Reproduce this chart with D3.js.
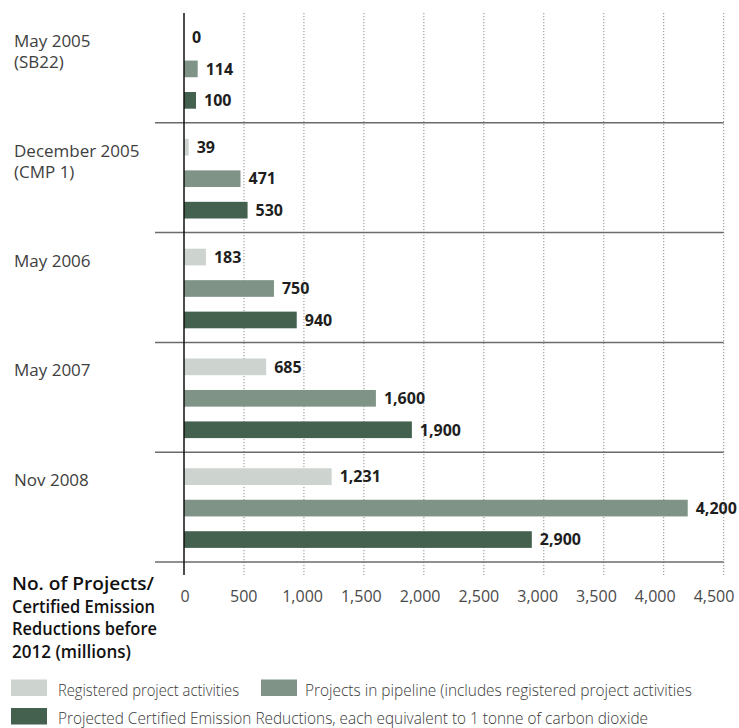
<!DOCTYPE html>
<html>
<head>
<meta charset="utf-8">
<script src="https://cdn.jsdelivr.net/npm/d3@7"></script>
<style>
  html, body { margin: 0; padding: 0; background: #fff; }
  svg { display: block; font-family: "Open Sans", "Noto Sans", sans-serif; }
</style>
</head>
<body>
<svg id="chart" width="739" height="728"></svg>
<script>
// ---- data ----
const categories = ["May 2005", "December 2005", "May 2006", "May 2007", "Nov 2008"];
const categoryLines = [["May 2005", "(SB22)"], ["December 2005", "(CMP 1)"], ["May 2006"], ["May 2007"], ["Nov 2008"]];
const seriesNames = [
  "Registered project activities",
  "Projects in pipeline (includes registered project activities",
  "Projected Certified Emission Reductions, each equivalent to 1 tonne of carbon dioxide"
];
const registered = [0, 39, 183, 685, 1231];
const pipeline = [114, 471, 750, 1600, 4200];
const projectedCERs = [100, 530, 940, 1900, 2900];
const tickValues = [0, 500, 1000, 1500, 2000, 2500, 3000, 3500, 4000, 4500];
const tickLabels = ["0", "500", "1,000", "1,500", "2,000", "2,500", "3,000", "3,500", "4,000", "4,500"];
const axisTitle = ["No. of Projects/", "Certified Emission", "Reductions before", "2012 (millions)"];
const colors = ["#cdd3cf", "#7f9486", "#43614e"];

const seriesValues = [registered, pipeline, projectedCERs];

const svg = d3.select("#chart");
svg.append("rect").attr("width", 739).attr("height", 728).attr("fill", "#fff");

const x = d3.scaleLinear().domain([0, 4500]).range([184, 723.7]);
const xLabel = d3.scaleLinear().domain([0, 4500]).range([185, 714]);
const y0 = d3.scaleBand().domain(categories).range([13, 562]).padding(0);
const y1 = d3.scaleBand().domain(d3.range(3)).range([1, y0.bandwidth() + 1])
  .paddingInner(0.47).paddingOuter(0.48);

const axisBottom = 575;

// gridlines (dotted)
svg.append("g").selectAll("line")
  .data(tickValues.filter(v => v > 0))
  .join("line")
  .attr("x1", d => x(d)).attr("x2", d => x(d))
  .attr("y1", 13).attr("y2", axisBottom)
  .attr("stroke", "#8a8a8a").attr("stroke-width", 1)
  .attr("stroke-dasharray", "1.2,1.8");

// group separators
svg.append("g").selectAll("line")
  .data(categories)
  .join("line")
  .attr("x1", 155).attr("x2", x(4500))
  .attr("y1", d => y0(d) + y0.bandwidth()).attr("y2", d => y0(d) + y0.bandwidth())
  .attr("stroke", "#6b6b6b").attr("stroke-width", 1.5);

// bars
const groups = svg.append("g").selectAll("g")
  .data(categories)
  .join("g")
  .attr("transform", d => `translate(0,${y0(d)})`);

groups.each(function(cat, ci) {
  const g = d3.select(this);
  const rows = seriesValues.map((vals, si) => ({ si, v: vals[ci] }));
  g.selectAll("rect")
    .data(rows)
    .join("rect")
    .attr("x", x(0))
    .attr("y", d => y1(d.si))
    .attr("width", d => x(d.v) - x(0))
    .attr("height", y1.bandwidth())
    .attr("fill", d => colors[d.si]);
  g.selectAll("text.val")
    .data(rows)
    .join("text")
    .attr("class", "val")
    .attr("x", d => x(d.v) + 8)
    .attr("y", d => y1(d.si) + y1.bandwidth() / 2)
    .attr("dy", "0.36em")
    .attr("font-size", 16)
    .attr("font-weight", 700)
    .attr("fill", "#1e1e1e")
    .text(d => d3.format(",")(d.v));
  // category labels
  const t = g.append("text")
    .attr("x", 14)
    .attr("y", 34)
    .attr("font-size", 17)
    .attr("fill", "#404040");
  categoryLines[ci].forEach((line, li) => {
    t.append("tspan").attr("x", 14).attr("y", 34 + li * 21).text(line);
  });
});

// y axis line
svg.append("line")
  .attr("x1", x(0)).attr("x2", x(0))
  .attr("y1", 13).attr("y2", axisBottom)
  .attr("stroke", "#111").attr("stroke-width", 1.5);

// x tick labels
svg.append("g").selectAll("text")
  .data(tickValues)
  .join("text")
  .attr("x", d => xLabel(d))
  .attr("y", 602)
  .attr("text-anchor", "middle")
  .attr("font-size", 16)
  .attr("fill", "#4a4a4a")
  .text((d, i) => tickLabels[i]);

// axis title
const titleWidths = [142, 143, 145, 119];
svg.append("g").selectAll("text")
  .data(axisTitle)
  .join("text")
  .attr("x", 12)
  .attr("y", (d, i) => 590 + i * 22.7)
  .attr("font-size", 18.5)
  .attr("font-weight", 600)
  .attr("fill", "#111")
  .attr("textLength", (d, i) => titleWidths[i])
  .attr("lengthAdjust", "spacingAndGlyphs")
  .text(d => d);

// legend
const legendItems = [
  { si: 0, sx: 11, sy: 679.5, sw: 36, tx: 58, ty: 695.5, tw: 181 },
  { si: 1, sx: 261, sy: 679.5, sw: 36, tx: 305, ty: 695.5, tw: 387 },
  { si: 2, sx: 11, sy: 708, sw: 36, tx: 58, ty: 724, tw: 590 }
];
const leg = svg.append("g");
leg.selectAll("rect")
  .data(legendItems)
  .join("rect")
  .attr("x", d => d.sx).attr("y", d => d.sy)
  .attr("width", d => d.sw).attr("height", 16.5)
  .attr("fill", d => colors[d.si]);
leg.selectAll("text")
  .data(legendItems)
  .join("text")
  .attr("x", d => d.tx).attr("y", d => d.ty)
  .attr("font-size", 16)
  .attr("font-weight", 300)
  .attr("fill", "#3a3a3a")
  .attr("textLength", d => d.tw)
  .attr("lengthAdjust", "spacingAndGlyphs")
  .text(d => seriesNames[d.si]);
</script>
</body>
</html>
